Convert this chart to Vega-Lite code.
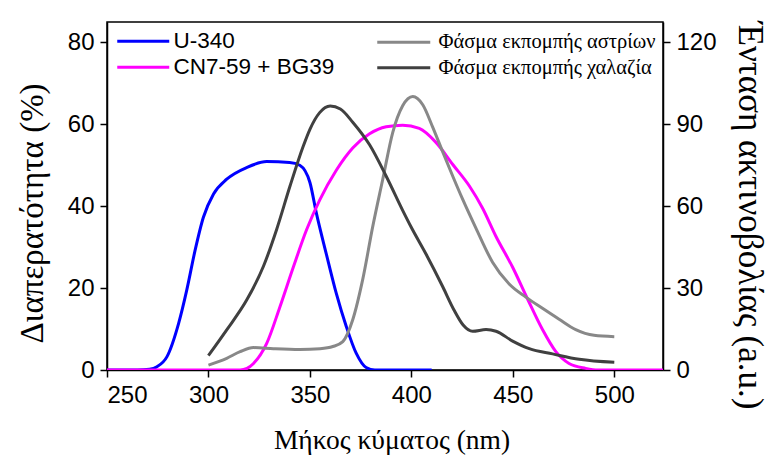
{
  "$schema": "https://vega.github.io/schema/vega-lite/v6.json",
  "width": 556,
  "height": 348,
  "autosize": {"type": "none"},
  "padding": {"left": 107, "top": 22, "right": 106, "bottom": 85},
  "background": "white",
  "config": {
    "view": {"stroke": "black", "strokeWidth": 1.5},
    "axis": {
      "domainColor": "black",
      "domainWidth": 1.5,
      "tickColor": "black",
      "tickWidth": 1.5,
      "tickSize": 7,
      "grid": false,
      "labelFont": "Liberation Sans",
      "labelFontSize": 24,
      "labelColor": "black",
      "labelPadding": 6,
      "titleFont": "Liberation Serif",
      "titleFontWeight": "normal",
      "titleColor": "black",
      "titleAlign": "center"
    }
  },
  "datasets": {
    "trans": [
      {"series": "U-340", "wl": 250, "T": 0},
      {"series": "U-340", "wl": 265, "T": 0},
      {"series": "U-340", "wl": 271, "T": 0.2},
      {"series": "U-340", "wl": 274.6, "T": 0.8},
      {"series": "U-340", "wl": 279.5, "T": 3.2},
      {"series": "U-340", "wl": 285.3, "T": 11.4},
      {"series": "U-340", "wl": 289.3, "T": 19.5},
      {"series": "U-340", "wl": 293.4, "T": 29.2},
      {"series": "U-340", "wl": 297.5, "T": 37.3},
      {"series": "U-340", "wl": 302.5, "T": 43},
      {"series": "U-340", "wl": 309, "T": 46.6},
      {"series": "U-340", "wl": 319, "T": 49.5},
      {"series": "U-340", "wl": 328.7, "T": 50.9},
      {"series": "U-340", "wl": 340, "T": 50.7},
      {"series": "U-340", "wl": 345, "T": 50},
      {"series": "U-340", "wl": 350, "T": 45.8},
      {"series": "U-340", "wl": 353.1, "T": 38.5},
      {"series": "U-340", "wl": 358, "T": 28.5},
      {"series": "U-340", "wl": 363, "T": 18.7},
      {"series": "U-340", "wl": 368, "T": 10.5},
      {"series": "U-340", "wl": 372.8, "T": 4.1},
      {"series": "U-340", "wl": 377.7, "T": 0.6},
      {"series": "U-340", "wl": 382, "T": 0},
      {"series": "U-340", "wl": 410, "T": 0},
      {"series": "CN7-59 + BG39", "wl": 250, "T": 0},
      {"series": "CN7-59 + BG39", "wl": 315.6, "T": 0},
      {"series": "CN7-59 + BG39", "wl": 319, "T": 0.4},
      {"series": "CN7-59 + BG39", "wl": 322.2, "T": 1.6},
      {"series": "CN7-59 + BG39", "wl": 328.7, "T": 6.5},
      {"series": "CN7-59 + BG39", "wl": 335.2, "T": 15.4},
      {"series": "CN7-59 + BG39", "wl": 341.8, "T": 25.1},
      {"series": "CN7-59 + BG39", "wl": 348.4, "T": 34.3},
      {"series": "CN7-59 + BG39", "wl": 354.8, "T": 41.5},
      {"series": "CN7-59 + BG39", "wl": 363, "T": 48.8},
      {"series": "CN7-59 + BG39", "wl": 371.2, "T": 54.3},
      {"series": "CN7-59 + BG39", "wl": 379.4, "T": 57.7},
      {"series": "CN7-59 + BG39", "wl": 387.6, "T": 59.4},
      {"series": "CN7-59 + BG39", "wl": 395.7, "T": 59.8},
      {"series": "CN7-59 + BG39", "wl": 403.9, "T": 59},
      {"series": "CN7-59 + BG39", "wl": 412.1, "T": 55.6},
      {"series": "CN7-59 + BG39", "wl": 420.4, "T": 50.2},
      {"series": "CN7-59 + BG39", "wl": 428.5, "T": 45},
      {"series": "CN7-59 + BG39", "wl": 435.1, "T": 39.5},
      {"series": "CN7-59 + BG39", "wl": 441.7, "T": 32.6},
      {"series": "CN7-59 + BG39", "wl": 449.9, "T": 25.1},
      {"series": "CN7-59 + BG39", "wl": 457.2, "T": 17.4},
      {"series": "CN7-59 + BG39", "wl": 464.6, "T": 9.9},
      {"series": "CN7-59 + BG39", "wl": 471.2, "T": 4.5},
      {"series": "CN7-59 + BG39", "wl": 477.7, "T": 1.6},
      {"series": "CN7-59 + BG39", "wl": 485.9, "T": 0.4},
      {"series": "CN7-59 + BG39", "wl": 492, "T": 0},
      {"series": "CN7-59 + BG39", "wl": 524, "T": 0}
    ],
    "emis": [
      {"series": "Φάσμα εκπομπής αστρίων", "wl": 300, "I": 1.8},
      {"series": "Φάσμα εκπομπής αστρίων", "wl": 309, "I": 4.3},
      {"series": "Φάσμα εκπομπής αστρίων", "wl": 315.6, "I": 6.7},
      {"series": "Φάσμα εκπομπής αστρίων", "wl": 322.2, "I": 8.2},
      {"series": "Φάσμα εκπομπής αστρίων", "wl": 332, "I": 7.8},
      {"series": "Φάσμα εκπομπής αστρίων", "wl": 345, "I": 7.5},
      {"series": "Φάσμα εκπομπής αστρίων", "wl": 355, "I": 7.8},
      {"series": "Φάσμα εκπομπής αστρίων", "wl": 361.3, "I": 8.6},
      {"series": "Φάσμα εκπομπής αστρίων", "wl": 366.2, "I": 10.4},
      {"series": "Φάσμα εκπομπής αστρίων", "wl": 371.1, "I": 18.4},
      {"series": "Φάσμα εκπομπής αστρίων", "wl": 376, "I": 33.1},
      {"series": "Φάσμα εκπομπής αστρίων", "wl": 381, "I": 52.7},
      {"series": "Φάσμα εκπομπής αστρίων", "wl": 385.9, "I": 69.9},
      {"series": "Φάσμα εκπομπής αστρίων", "wl": 390.8, "I": 87},
      {"series": "Φάσμα εκπομπής αστρίων", "wl": 395.7, "I": 96.8},
      {"series": "Φάσμα εκπομπής αστρίων", "wl": 400.7, "I": 100.2},
      {"series": "Φάσμα εκπομπής αστρίων", "wl": 405.6, "I": 97.2},
      {"series": "Φάσμα εκπομπής αστρίων", "wl": 410.5, "I": 89},
      {"series": "Φάσμα εκπομπής αστρίων", "wl": 415.4, "I": 80},
      {"series": "Φάσμα εκπομπής αστρίων", "wl": 420.4, "I": 71},
      {"series": "Φάσμα εκπομπής αστρίων", "wl": 425.3, "I": 62.5},
      {"series": "Φάσμα εκπομπής αστρίων", "wl": 431.8, "I": 52},
      {"series": "Φάσμα εκπομπής αστρίων", "wl": 440, "I": 39.5},
      {"series": "Φάσμα εκπομπής αστρίων", "wl": 448.2, "I": 31.5},
      {"series": "Φάσμα εκπομπής αστρίων", "wl": 456.4, "I": 26.7},
      {"series": "Φάσμα εκπομπής αστρίων", "wl": 464.6, "I": 22.6},
      {"series": "Φάσμα εκπομπής αστρίων", "wl": 472.8, "I": 18.6},
      {"series": "Φάσμα εκπομπής αστρίων", "wl": 481, "I": 14.8},
      {"series": "Φάσμα εκπομπής αστρίων", "wl": 490, "I": 12.7},
      {"series": "Φάσμα εκπομπής αστρίων", "wl": 500, "I": 12.2},
      {"series": "Φάσμα εκπομπής χαλαζία", "wl": 300, "I": 5.3},
      {"series": "Φάσμα εκπομπής χαλαζία", "wl": 309, "I": 14.7},
      {"series": "Φάσμα εκπομπής χαλαζία", "wl": 318.9, "I": 25.7},
      {"series": "Φάσμα εκπομπής χαλαζία", "wl": 327.1, "I": 38},
      {"series": "Φάσμα εκπομπής χαλαζία", "wl": 333.6, "I": 51.5},
      {"series": "Φάσμα εκπομπής χαλαζία", "wl": 340.2, "I": 67.4},
      {"series": "Φάσμα εκπομπής χαλαζία", "wl": 346.7, "I": 82},
      {"series": "Φάσμα εκπομπής χαλαζία", "wl": 350, "I": 88.2},
      {"series": "Φάσμα εκπομπής χαλαζία", "wl": 354.8, "I": 94.3},
      {"series": "Φάσμα εκπομπής χαλαζία", "wl": 360, "I": 96.7},
      {"series": "Φάσμα εκπομπής χαλαζία", "wl": 365, "I": 95.6},
      {"series": "Φάσμα εκπομπής χαλαζία", "wl": 371.2, "I": 90.7},
      {"series": "Φάσμα εκπομπής χαλαζία", "wl": 379.4, "I": 82.5},
      {"series": "Φάσμα εκπομπής χαλαζία", "wl": 387.6, "I": 71},
      {"series": "Φάσμα εκπομπής χαλαζία", "wl": 395.7, "I": 58.5},
      {"series": "Φάσμα εκπομπής χαλαζία", "wl": 400, "I": 52.2},
      {"series": "Φάσμα εκπομπής χαλαζία", "wl": 407.2, "I": 42.5},
      {"series": "Φάσμα εκπομπής χαλαζία", "wl": 415.4, "I": 30.6},
      {"series": "Φάσμα εκπομπής χαλαζία", "wl": 421, "I": 22},
      {"series": "Φάσμα εκπομπής χαλαζία", "wl": 425.5, "I": 16.5},
      {"series": "Φάσμα εκπομπής χαλαζία", "wl": 430.2, "I": 14.2},
      {"series": "Φάσμα εκπομπής χαλαζία", "wl": 436.8, "I": 14.8},
      {"series": "Φάσμα εκπομπής χαλαζία", "wl": 441.7, "I": 14.2},
      {"series": "Φάσμα εκπομπής χαλαζία", "wl": 449.9, "I": 10.6},
      {"series": "Φάσμα εκπομπής χαλαζία", "wl": 458.1, "I": 7.8},
      {"series": "Φάσμα εκπομπής χαλαζία", "wl": 469.6, "I": 5.9},
      {"series": "Φάσμα εκπομπής χαλαζία", "wl": 482.7, "I": 3.9},
      {"series": "Φάσμα εκπομπής χαλαζία", "wl": 500, "I": 2.8}
    ]
  },
  "layer": [
    {
      "data": {"name": "trans"},
      "mark": {"type": "line", "interpolate": "monotone", "strokeWidth": 3, "clip": true},
      "encoding": {
        "x": {"field": "wl", "type": "quantitative",
          "scale": {"domain": [250, 524], "nice": false, "zero": false},
          "axis": {"values": [250, 300, 350, 400, 450, 500], "title": "Μήκος κύματος (nm)",
            "titleFont": "Liberation Serif", "titleFontSize": 27.5, "titleX": 284.5, "titleY": 78, "titleBaseline": "alphabetic"}},
        "y": {"field": "T", "type": "quantitative",
          "scale": {"domain": [0, 85], "nice": false},
          "axis": {"orient": "left", "values": [0, 20, 40, 60, 80], "title": "Διαπερατότητα (%)",
            "titleFont": "Liberation Serif", "titleFontSize": 33, "titleX": -75, "titleY": 191, "titleBaseline": "middle", "titleAngle": -90}},
        "color": {"field": "series", "type": "nominal",
          "scale": {"domain": ["U-340", "CN7-59 + BG39"], "range": ["#0000ff", "#ff00ff"]},
          "legend": {"title": null, "orient": "none", "legendX": 25, "legendY": 8, "padding": 0,
            "symbolType": "M-5.2,0H5.2", "symbolSize": 100, "symbolStrokeWidth": 3,
            "labelFont": "Liberation Sans", "labelFontSize": 22.5, "labelColor": "black",
            "labelOffset": 19, "rowPadding": 3, "labelLimit": 400}}
      }
    },
    {
      "data": {"name": "emis"},
      "mark": {"type": "line", "interpolate": "monotone", "strokeWidth": 3, "clip": true},
      "encoding": {
        "x": {"field": "wl", "type": "quantitative",
          "scale": {"domain": [250, 524], "nice": false, "zero": false},
          "axis": {"values": [250, 300, 350, 400, 450, 500], "title": "Μήκος κύματος (nm)",
            "titleFont": "Liberation Serif", "titleFontSize": 27.5, "titleX": 284.5, "titleY": 78, "titleBaseline": "alphabetic"}},
        "y": {"field": "I", "type": "quantitative",
          "scale": {"domain": [0, 127.5], "nice": false},
          "axis": {"orient": "right", "values": [0, 30, 60, 90, 120], "title": "Ένταση ακτινοβολίας (a.u.)",
            "titleFont": "Liberation Serif", "titleFontSize": 35, "titleX": 86, "titleY": 193, "titleBaseline": "middle", "titleAngle": 90}},
        "color": {"field": "series", "type": "nominal",
          "scale": {"domain": ["Φάσμα εκπομπής αστρίων", "Φάσμα εκπομπής χαλαζία"], "range": ["#888888", "#404040"]},
          "legend": {"title": null, "orient": "none", "legendX": 286.5, "legendY": 10, "padding": 0,
            "symbolType": "M-5.3,0H5.3", "symbolSize": 100, "symbolStrokeWidth": 3,
            "labelFont": "Liberation Serif", "labelFontSize": 20.5, "labelColor": "black",
            "labelOffset": 24.5, "rowPadding": 4.5, "labelLimit": 400}}
      }
    }
  ],
  "resolve": {"scale": {"y": "independent", "color": "independent"}}
}
